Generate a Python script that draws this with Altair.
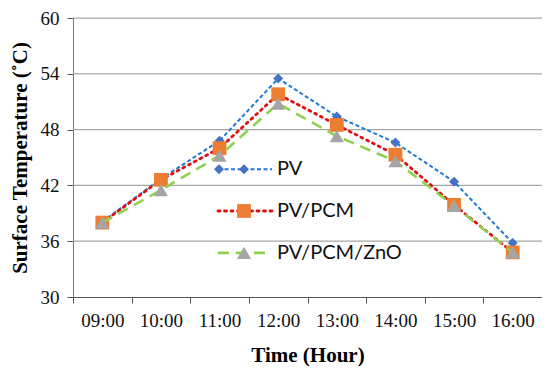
import altair as alt
import pandas as pd

# ---- data ----
times = ["09:00", "10:00", "11:00", "12:00", "13:00", "14:00", "15:00", "16:00"]
pv = [38.1, 42.7, 46.8, 53.5, 49.4, 46.6, 42.4, 35.8]
pv_pcm = [38.0, 42.6, 46.0, 51.8, 48.5, 45.3, 39.9, 34.8]
pv_pcm_zno = [38.0, 41.5, 45.2, 50.8, 47.3, 44.6, 39.8, 34.8]
series_names = ["PV", "PV/PCM", "PV/PCM/ZnO"]
y_ticks = [30, 33, 36, 39, 42, 45, 48, 51, 54, 57, 60]
y_grid = [36, 42, 48, 54, 60]
legend_rows = [43.75, 39.25, 34.75]

# ---- styles ----
line_colors = ["#1F7AD0", "#E01010", "#8FD14F"]
marker_colors = ["#4472C4", "#ED7D31", "#A5A5A5"]
shapes = ["diamond", "square", "triangle-up"]
sizes = [100, 190, 200]
dashes = [[4, 2.5], [2, 4.5], [11, 7]]
widths = [2, 2.8, 2.6]
caps = ["butt", "round", "butt"]

df = pd.DataFrame({
    "time": times * 3,
    "value": pv + pv_pcm + pv_pcm_zno,
    "series": [s for s in series_names for _ in times],
})
leg = pd.DataFrame({"series": series_names, "y": legend_rows})

ysc = alt.Scale(domain=[30, 60], nice=False, zero=False)

X = alt.X("time:N", sort=times, bandPosition=0.5,
          scale=alt.Scale(type="band", paddingInner=0, paddingOuter=0),
          axis=alt.Axis(title="Time (Hour)", tickBand="extent", labelAngle=0,
                        labelFont="Liberation Serif", labelFontSize=19,
                        labelColor="#111", labelPadding=8,
                        titleFont="Liberation Serif", titleFontSize=21,
                        titleFontWeight="bold", titleColor="#000",
                        titlePadding=14,
                        domainColor="#555", tickColor="#555", tickSize=6,
                        grid=False))
Y = alt.Y("value:Q", scale=ysc,
          axis=alt.Axis(title="Surface Temperature (˚C)", values=y_ticks,
                        labelExpr="datum.value % 6 == 0 ? datum.label : ''",
                        labelFont="Liberation Serif", labelFontSize=19,
                        labelColor="#111", labelPadding=8,
                        titleFont="Liberation Serif", titleFontSize=21,
                        titleFontWeight="bold", titleColor="#000",
                        titlePadding=10,
                        domainColor="#777", tickColor="#555", tickSize=6,
                        grid=False))

grid = alt.Chart(pd.DataFrame({"g": y_grid})).mark_rule(
    color="#A6A6A6", strokeWidth=1.2).encode(y=alt.Y("g:Q", scale=ysc))

layers = [grid]
for i, s in enumerate(series_names):
    d = df[df.series == s]
    layers.append(alt.Chart(d).mark_line(
        color=line_colors[i], strokeDash=dashes[i], strokeWidth=widths[i],
        strokeCap=caps[i]).encode(x=X, y=Y))
    layers.append(alt.Chart(d).mark_point(
        shape=shapes[i], filled=True, opacity=1, color=marker_colors[i],
        size=sizes[i]).encode(x=X, y=Y))

# legend (drawn inside the plot)
for i, s in enumerate(series_names):
    d = leg[leg.series == s]
    yy = alt.Y("y:Q", scale=ysc)
    layers.append(alt.Chart(d).mark_rule(
        color=line_colors[i], strokeDash=dashes[i], strokeWidth=widths[i],
        strokeCap=caps[i]).encode(x=alt.value(145), x2=alt.value(199), y=yy))
    layers.append(alt.Chart(d).mark_point(
        shape=shapes[i], filled=True, opacity=1, color=marker_colors[i],
        size=sizes[i]).encode(x=alt.value(171), y=yy))
    if i == 0:
        layers.append(alt.Chart(d).mark_point(
            shape=shapes[i], filled=True, opacity=1, color=marker_colors[i],
            size=sizes[i]).encode(x=alt.value(146), y=yy))
layers.append(alt.Chart(leg).mark_text(
    align="left", baseline="middle", font="Lato", fontSize=20, color="#111").encode(
    x=alt.value(204), y=alt.Y("y:Q", scale=ysc), text="series:N"))

chart = alt.layer(*layers).properties(
    width=469, height=279,
    autosize=alt.AutoSizeParams(type="none"),
    padding={"left": 65, "top": 10, "right": 0, "bottom": 70},
).configure_view(stroke=None).configure(background="white")

chart.save("out.html", embed_options={"renderer": "svg", "actions": False})
